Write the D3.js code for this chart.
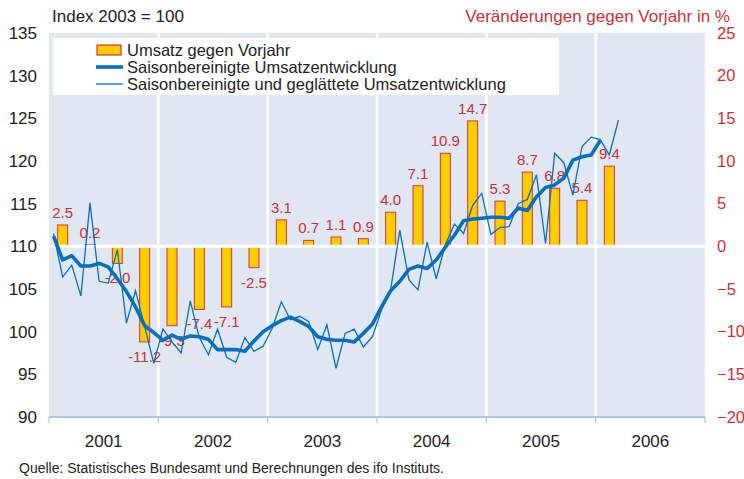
<!DOCTYPE html>
<html>
<head>
<meta charset="utf-8">
<script src="https://cdn.jsdelivr.net/npm/d3@7"></script>
<style>
  body { margin: 0; background: #fff; }
  svg { display: block; font-family: "Liberation Sans", Arial, sans-serif; }
</style>
</head>
<body>
<div id="chart"></div>
<script>
// years on the x axis
const years = ["2001", "2002", "2003", "2004", "2005", "2006"];

// quarterly change vs. previous year in % (bars, right axis), 2001 Q1 - 2006 Q1
const quarterChange = [2.5, 0.2, -2.0, -11.2,
                       -9.3, -7.4, -7.1, -2.5,
                       3.1, 0.7, 1.1, 0.9,
                       4.0, 7.1, 10.9, 14.7,
                       5.3, 8.7, 6.8, 5.4,
                       9.4];

// monthly index, Jan 2001 - Jan 2006 (thick line)
const adjusted = [111.2, 108.4, 108.9, 107.7, 107.7, 108.0, 107.6, 106.2, 104.7, 102.9, 100.7, 99.9,
                  99.0, 99.6, 99.1, 99.5, 99.4, 99.1, 97.9, 97.9, 97.9, 97.7, 98.9, 100.0,
                  100.7, 101.3, 101.7, 101.2, 100.6, 99.4, 99.1, 99.0, 99.0, 98.8, 99.8, 100.9,
                  102.9, 104.8, 105.9, 107.3, 107.7, 107.4, 108.4, 109.9, 111.3, 113.0, 113.2, 113.3,
                  113.4, 113.4, 113.3, 114.5, 114.2, 115.8, 116.9, 117.2, 118.0, 120.1, 120.5, 120.7,
                  122.4];

// monthly index, Jan 2001 - Mar 2006 (thin line)
const adjustedSmoothed = [111.5, 106.4, 107.8, 104.2, 115.1, 105.9, 105.7, 109.6, 101.0, 104.8, 100.6, 96.3,
                          100.3, 98.8, 97.5, 103.6, 99.3, 97.3, 100.3, 97.0, 96.4, 99.3, 97.7, 98.3,
                          100.4, 103.5, 101.4, 101.8, 101.2, 97.9, 100.8, 95.7, 99.8, 100.3, 98.2, 99.4,
                          102.6, 104.9, 111.9, 106.1, 104.9, 110.5, 106.2, 110.2, 112.6, 111.5, 114.8, 116.2,
                          111.4, 112.2, 112.3, 115.0, 115.5, 118.4, 110.3, 120.9, 119.8, 116.0, 121.7, 122.8,
                          122.5, 120.7, 124.8];

const leftTicks = [90, 95, 100, 105, 110, 115, 120, 125, 130, 135];
const rightTicks = [-20, -15, -10, -5, 0, 5, 10, 15, 20, 25];

const width = 744, height = 479;
const margin = {top: 33, right: 39, bottom: 62, left: 49};

const svg = d3.select("#chart").append("svg")
    .attr("width", width)
    .attr("height", height)
    .attr("viewBox", [0, 0, width, height]);

// month index 0..72 across the plot
const x = d3.scaleLinear()
    .domain([0, 72])
    .range([margin.left, width - margin.right]);

const xYear = d3.scaleBand()
    .domain(years)
    .range([margin.left, width - margin.right]);

const yLeft = d3.scaleLinear()
    .domain([90, 135])
    .range([height - margin.bottom, margin.top]);

const yRight = d3.scaleLinear()
    .domain([-20, 25])
    .range([height - margin.bottom, margin.top]);

const red = "#c8303a";
const blue = "#0a6fb8";

// plot background
svg.append("rect")
    .attr("x", x(0))
    .attr("y", margin.top)
    .attr("width", x(72) - x(0))
    .attr("height", yLeft(90) - margin.top)
    .attr("fill", "#e0e7f3");

// white year separators
svg.append("g")
  .selectAll("line")
  .data(d3.range(1, 6))
  .join("line")
    .attr("x1", d => x(d * 12))
    .attr("x2", d => x(d * 12))
    .attr("y1", margin.top)
    .attr("y2", yLeft(90))
    .attr("stroke", "#fff")
    .attr("stroke-width", 2.5);

// bars
svg.append("g")
  .selectAll("rect")
  .data(quarterChange)
  .join("rect")
    .attr("x", (d, i) => x(i * 3 + 1.5) - 5)
    .attr("width", 10)
    .attr("y", d => yRight(Math.max(0, d)))
    .attr("height", d => Math.abs(yRight(d) - yRight(0)))
    .attr("fill", "#ffcc00")
    .attr("stroke", "#d2353a")
    .attr("stroke-width", 1);

// zero line
svg.append("line")
    .attr("x1", x(0))
    .attr("x2", x(72))
    .attr("y1", yRight(0))
    .attr("y2", yRight(0))
    .attr("stroke", "#fff")
    .attr("stroke-width", 3);

// bar labels
svg.append("g")
  .selectAll("text")
  .data(quarterChange)
  .join("text")
    .attr("x", (d, i) => x(i * 3 + 1.5))
    .attr("y", d => d >= 0 ? yRight(d) - 7 : yRight(d) + 20)
    .attr("text-anchor", "middle")
    .attr("font-size", 15)
    .attr("fill", red)
    .text(d => d.toFixed(1));

// lines
const line = d3.line()
    .x((d, i) => x(i + 0.5))
    .y(d => yLeft(d));

svg.append("path")
    .datum(adjustedSmoothed)
    .attr("d", line)
    .attr("fill", "none")
    .attr("stroke", blue)
    .attr("stroke-width", 1.3);

svg.append("path")
    .datum(adjusted)
    .attr("d", line)
    .attr("fill", "none")
    .attr("stroke", blue)
    .attr("stroke-width", 3.6)
    .attr("stroke-linejoin", "round");

// left axis
svg.append("g")
    .attr("transform", `translate(${margin.left},0)`)
    .call(d3.axisLeft(yLeft).tickValues(leftTicks).tickSize(0).tickPadding(12))
    .call(g => g.select(".domain").remove())
    .call(g => g.selectAll("text")
        .attr("font-size", 17)
        .attr("font-family", "Liberation Sans, Arial, sans-serif")
        .attr("fill", "#222"));

// right axis
svg.append("g")
    .attr("transform", `translate(${width - margin.right},0)`)
    .call(d3.axisRight(yRight).tickValues(rightTicks).tickSize(0).tickPadding(12))
    .call(g => g.select(".domain").remove())
    .call(g => g.selectAll("text")
        .attr("font-size", 16.5)
        .attr("font-family", "Liberation Sans, Arial, sans-serif")
        .attr("fill", red));

// bottom axis line + year boundary ticks
const xAxis = svg.append("g")
    .attr("transform", `translate(0,${yLeft(90)})`);
xAxis.append("line")
    .attr("x1", x(0))
    .attr("x2", x(72))
    .attr("stroke", "#a9c6e6")
    .attr("stroke-width", 2);
xAxis.selectAll(".bound")
  .data(d3.range(0, 7))
  .join("line")
    .attr("class", "bound")
    .attr("x1", d => x(d * 12))
    .attr("x2", d => x(d * 12))
    .attr("y1", 0)
    .attr("y2", 6)
    .attr("stroke", "#a9c6e6")
    .attr("stroke-width", 1.2);

svg.append("g")
    .attr("transform", `translate(0,${yLeft(90) + 18})`)
    .call(d3.axisBottom(xYear).tickSize(0).tickPadding(0))
    .call(g => g.select(".domain").remove())
    .call(g => g.selectAll("text")
        .attr("font-size", 17)
        .attr("font-family", "Liberation Sans, Arial, sans-serif")
        .attr("fill", "#222"));

// titles
svg.append("text")
    .attr("x", 52)
    .attr("y", 22)
    .attr("font-size", 17)
    .attr("fill", "#222")
    .text("Index 2003 = 100");

svg.append("text")
    .attr("x", 730)
    .attr("y", 22)
    .attr("text-anchor", "end")
    .attr("font-size", 17)
    .attr("fill", red)
    .text("Veränderungen gegen Vorjahr in %");

svg.append("text")
    .attr("x", 19)
    .attr("y", 473)
    .attr("font-size", 14)
    .attr("fill", "#222")
    .text("Quelle: Statistisches Bundesamt und Berechnungen des ifo Instituts.");

// legend
const legend = svg.append("g");
legend.append("rect")
    .attr("x", 53)
    .attr("y", 38)
    .attr("width", 506)
    .attr("height", 57)
    .attr("fill", "#fff");

const legendItems = [
  {label: "Umsatz gegen Vorjahr", type: "bar"},
  {label: "Saisonbereinigte Umsatzentwicklung", type: "thick"},
  {label: "Saisonbereinigte und geglättete Umsatzentwicklung", type: "thin"}
];

legendItems.forEach((item, i) => {
  const cy = 50 + i * 17;
  if (item.type === "bar") {
    legend.append("rect")
        .attr("x", 97).attr("y", cy - 5)
        .attr("width", 24).attr("height", 10)
        .attr("fill", "#ffcc00")
        .attr("stroke", "#d2353a")
        .attr("stroke-width", 1.2);
  } else {
    legend.append("line")
        .attr("x1", 96).attr("x2", 123)
        .attr("y1", cy).attr("y2", cy)
        .attr("stroke", blue)
        .attr("stroke-width", item.type === "thick" ? 3.6 : 1.3);
  }
  legend.append("text")
      .attr("x", 127)
      .attr("y", cy + 6)
      .attr("font-size", 16.5)
      .attr("fill", "#222")
      .text(item.label);
});
</script>
</body>
</html>
